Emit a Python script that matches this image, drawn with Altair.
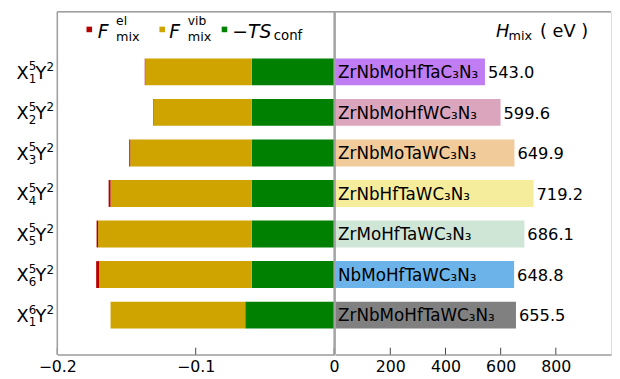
import altair as alt
import pandas as pd

# ---------------- data ----------------
rows = ["r1", "r2", "r3", "r4", "r5", "r6", "r7"]
x_sub = ["1", "2", "3", "4", "5", "6", "1"]
x_sup = ["5", "5", "5", "5", "5", "5", "6"]
y_sup = ["2", "2", "2", "2", "2", "2", "2"]

f_el = [-0.0004, -0.0004, -0.0007, -0.0014, -0.0011, -0.0021, 0.0]
f_vib = [-0.0769, -0.0707, -0.0878, -0.1020, -0.1110, -0.1103, -0.0973]
ts_conf = [-0.0595, -0.0595, -0.0595, -0.0595, -0.0595, -0.0595, -0.0642]

compounds = ["ZrNbMoHfTaC₃N₃", "ZrNbMoHfWC₃N₃", "ZrNbMoTaWC₃N₃", "ZrNbHfTaWC₃N₃",
             "ZrMoHfTaWC₃N₃", "NbMoHfTaWC₃N₃", "ZrNbMoHfTaWC₃N₃"]
h_mix = [543.0, 599.6, 649.9, 719.2, 686.1, 648.8, 655.5]
bar_colors = ["#c07cf2", "#dba6bd", "#f2cb9b", "#f5ed9c", "#cfe6d6", "#6cb3ea", "#808080"]

comp_keys = ["conf", "vib", "el"]
comp_colors = ["#008000", "#cfa300", "#b50000"]

left_ticks = [-0.2, -0.1, 0.0]
right_ticks = [200, 400, 600, 800]

FONT = "DejaVu Sans"
FRAME = "#a0a0a0"
LW, GAP, RW, H = 281, 1, 280, 348
R0 = LW + GAP          # left edge of the right panel
W = R0 + RW

# ---------------- tables ----------------
recs = []
for i, r in enumerate(rows):
    for k, (key, arr) in enumerate(zip(comp_keys, [ts_conf, f_vib, f_el])):
        recs.append({"row": r, "comp": key, "value": arr[i], "ord": k})
df_left = pd.DataFrame(recs)
df_rows = pd.DataFrame({"row": rows, "sub": x_sub, "sup": x_sup, "ysup": y_sup,
                        "name": compounds, "H": h_mix})
one = pd.DataFrame({"a": [1]})

yscale = alt.Scale(domain=rows, paddingInner=0.337, paddingOuter=0.898, align=0.642)
xl = alt.Scale(domain=[-0.2, 0.0], range=[0, LW], nice=False, zero=False)
xr = alt.Scale(domain=[0, 1000], range=[R0, W], nice=False)


def xaxis(vals, fmt):
    return alt.Axis(values=vals, format=fmt, orient="bottom", ticks=False, labelPadding=4,
                    labelFontSize=16, labelColor="black", labelFont=FONT, labelFlush=False,
                    labelOverlap=False, domainColor=FRAME, domainWidth=1.5, grid=False,
                    title=None)


Y = lambda: alt.Y("row:N", sort=rows, scale=yscale, axis=None)

# ---------------- left panel ----------------
bars_l = alt.Chart(df_left).mark_bar().encode(
    x=alt.X("value:Q", stack="zero", scale=xl, axis=xaxis(left_ticks, ".1~f")),
    y=alt.Y("row:N", sort=rows, scale=yscale,
            axis=alt.Axis(labels=False, ticks=True, tickSize=3, tickColor="#444",
                          domain=False, title=None, grid=False)),
    color=alt.Color("comp:N", scale=alt.Scale(domain=comp_keys, range=comp_colors), legend=None),
    order=alt.Order("ord:Q"),
)

ylab = [
    alt.Chart(df_rows).mark_text(align="left", baseline="alphabetic", fontSize=18, dy=7,
                                 font=FONT).encode(x=alt.value(-41.3), y=Y(), text=alt.value("X")),
    alt.Chart(df_rows).mark_text(align="left", baseline="alphabetic", fontSize=12, dy=-1.6,
                                 font=FONT).encode(x=alt.value(-28.9), y=Y(), text="sup:N"),
    alt.Chart(df_rows).mark_text(align="left", baseline="alphabetic", fontSize=12, dy=11.4,
                                 font=FONT).encode(x=alt.value(-28.9), y=Y(), text="sub:N"),
    alt.Chart(df_rows).mark_text(align="left", baseline="alphabetic", fontSize=18, dy=7,
                                 font=FONT).encode(x=alt.value(-22.2), y=Y(), text=alt.value("Y")),
    alt.Chart(df_rows).mark_text(align="left", baseline="alphabetic", fontSize=12, dy=-1,
                                 font=FONT).encode(x=alt.value(-10.9), y=Y(), text="ysup:N"),
]


def txt(s, x, y, size, italic=False):
    return alt.Chart(one).mark_text(align="left", baseline="alphabetic", fontSize=size, font=FONT,
                                    fontStyle="italic" if italic else "normal",
                                    color="black").encode(x=alt.value(x), y=alt.value(y),
                                                          text=alt.value(s))


def sq(color, x, y):
    return alt.Chart(one).mark_point(shape="square", filled=True, size=32, color=color,
                                     opacity=1).encode(x=alt.value(x), y=alt.value(y))


legend = [
    sq(comp_colors[2], 32.5, 18),
    txt("F", 41, 27, 19, True), txt("el", 59.7, 13, 12.5), txt("mix", 59.7, 29.5, 13),
    sq(comp_colors[1], 106.5, 18),
    txt("F", 113.7, 27, 19, True), txt("vib", 132.4, 13, 12.5), txt("mix", 132.4, 29.5, 13),
    sq(comp_colors[0], 169.7, 18),
    txt("−TS", 177.7, 27, 19, True), txt("conf", 219.7, 29, 13.5),
]


def rule(**enc):
    return alt.Chart(one).mark_rule(color=FRAME, strokeWidth=1.5).encode(**enc)


frames = [
    rule(x=alt.value(0), x2=alt.value(W), y=alt.value(0)),
    rule(x=alt.value(0), y=alt.value(0), y2=alt.value(H)),
    rule(x=alt.value(LW), y=alt.value(0), y2=alt.value(H)),
    rule(x=alt.value(R0), y=alt.value(0), y2=alt.value(H)),
]
ticks_l = alt.Chart(pd.DataFrame({"t": left_ticks})).mark_rule(color="#444").encode(
    x=alt.X("t:Q", scale=xl, axis=None), y=alt.value(H - 7), y2=alt.value(H))

# ---------------- right panel ----------------
bars_r = alt.Chart(df_rows).mark_bar().encode(
    x=alt.X("H:Q", scale=xr, axis=xaxis(right_ticks, "d")),
    x2=alt.datum(0),
    y=Y(),
    color=alt.Color("row:N", scale=alt.Scale(domain=rows, range=bar_colors), legend=None),
)
names = alt.Chart(df_rows).mark_text(align="left", baseline="alphabetic", fontSize=17, dy=6.3,
                                     font=FONT, color="black").encode(
    x=alt.value(R0 + 3), y=Y(), text="name:N")
vals = alt.Chart(df_rows).mark_text(align="left", baseline="alphabetic", fontSize=16.5, dy=6.3,
                                    dx=3, font=FONT, color="black").encode(
    x=alt.X("H:Q", scale=xr, axis=None), y=Y(), text=alt.Text("H:Q", format=".1f"))
ticks_r = alt.Chart(pd.DataFrame({"t": right_ticks})).mark_rule(color="#444").encode(
    x=alt.X("t:Q", scale=xr, axis=None), y=alt.value(H - 7), y2=alt.value(H))
hlab = [txt("H", R0 + 163.3, 25.8, 18, True), txt("mix", R0 + 176, 28.5, 13),
        txt("( eV )", R0 + 208, 25.8, 18)]

chart = alt.layer(
    bars_l, bars_r, ticks_l, ticks_r, names, vals, *ylab, *legend, *hlab, *frames
).resolve_scale(x="independent", color="independent").properties(
    width=W, height=H, padding={"left": 8, "top": 0, "right": 0, "bottom": 0}
).configure_view(stroke=None).configure(font=FONT)

chart.save("out.html", embed_options={"renderer": "svg", "actions": False})
